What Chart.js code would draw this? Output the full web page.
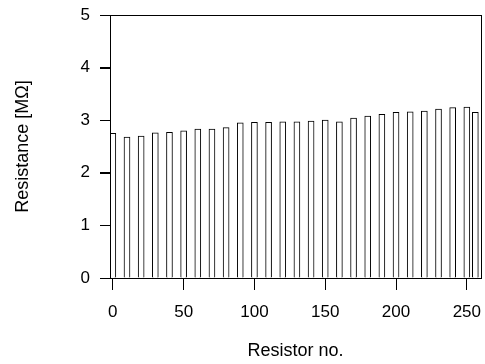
<!DOCTYPE html>
<html>
<head>
<meta charset="utf-8">
<script src="https://cdn.jsdelivr.net/npm/chart.js@4"></script>
<style>
  body { margin: 0; background: #fff; }
  canvas { display: block; }
</style>
</head>
<body>
<canvas id="chart" width="485" height="364"></canvas>
<script>
const resistorNo = [0, 10, 20, 30, 40, 50, 60, 70, 80, 90, 100, 110, 120, 130,
    140, 150, 160, 170, 180, 190, 200, 210, 220, 230, 240, 250, 256];
const resistance = [2.75, 2.68, 2.70, 2.76, 2.77, 2.80, 2.83, 2.83, 2.86, 2.95, 2.96, 2.96, 2.97, 2.97,
    2.985, 3.00, 2.97, 3.04, 3.08, 3.11, 3.15, 3.16, 3.175, 3.21, 3.24, 3.25, 3.15];
const xTicks = [0, 50, 100, 150, 200, 250];
const yTicks = [0, 1, 2, 3, 4, 5];

const FONT = "'Liberation Sans', Arial, sans-serif";

// box round the plot area, plus the y tick marks
const boxPlugin = {
    id: 'box',
    afterDraw(chart) {
        const a = chart.chartArea;
        const ys = chart.scales.y;
        const ctx = chart.ctx;
        ctx.save();
        ctx.strokeStyle = '#000';
        ctx.lineWidth = 1;
        ctx.strokeRect(Math.round(a.left) + 0.5, Math.round(a.top) + 0.5,
            Math.round(a.right - a.left), Math.round(a.bottom - a.top));
        ctx.beginPath();
        ys.ticks.forEach(t => {
            const py = Math.round(ys.getPixelForValue(t.value)) + 0.5;
            ctx.moveTo(ys.right - 10, py);
            ctx.lineTo(ys.right, py);
        });
        ctx.stroke();
        ctx.restore();
    }
};

const ctx = document.getElementById('chart').getContext('2d');
new Chart(ctx, {
    type: 'bar',
    data: {
        datasets: [{
            data: resistorNo.map((x, i) => ({ x: x, y: resistance[i] })),
            backgroundColor: '#fff',
            borderColor: '#000',
            borderWidth: 1,
            barThickness: 6
        }]
    },
    options: {
        responsive: false,
        animation: false,
        layout: { padding: { top: 15, right: 4, left: 0, bottom: 0 } },
        plugins: { legend: { display: false }, tooltip: { enabled: false } },
        scales: {
            x: {
                type: 'linear',
                offset: false,
                min: -2,
                max: 260,
                afterBuildTicks: s => { s.ticks = xTicks.map(v => ({ value: v })); },
                afterFit: s => { s.height = 86; s.paddingLeft = 0; s.paddingRight = 0; },
                grid: { offset: false, drawOnChartArea: false, drawTicks: true, tickLength: 12, color: '#000' },
                border: { display: false },
                ticks: { color: '#000', padding: 12, maxRotation: 0, autoSkip: false, font: { family: FONT, size: 17 } },
                title: {
                    display: true, text: 'Resistor no.', color: '#000',
                    padding: { top: 0, bottom: 2 },
                    font: { family: FONT, size: 18 }
                }
            },
            y: {
                min: 0,
                max: 5,
                afterBuildTicks: s => { s.ticks = yTicks.map(v => ({ value: v })); },
                afterFit: s => { s.width = 110; s.paddingTop = 0; s.paddingBottom = 0; },
                grid: { offset: false, drawOnChartArea: false, drawTicks: true, tickLength: 10, color: '#000' },
                border: { display: false },
                ticks: { color: '#000', padding: 10, autoSkip: false, font: { family: FONT, size: 17 } },
                title: {
                    display: true, text: 'Resistance [MΩ]', color: '#000',
                    padding: { top: 12, bottom: 0 },
                    font: { family: FONT, size: 18 }
                }
            }
        }
    },
    plugins: [boxPlugin]
});
</script>
</body>
</html>
